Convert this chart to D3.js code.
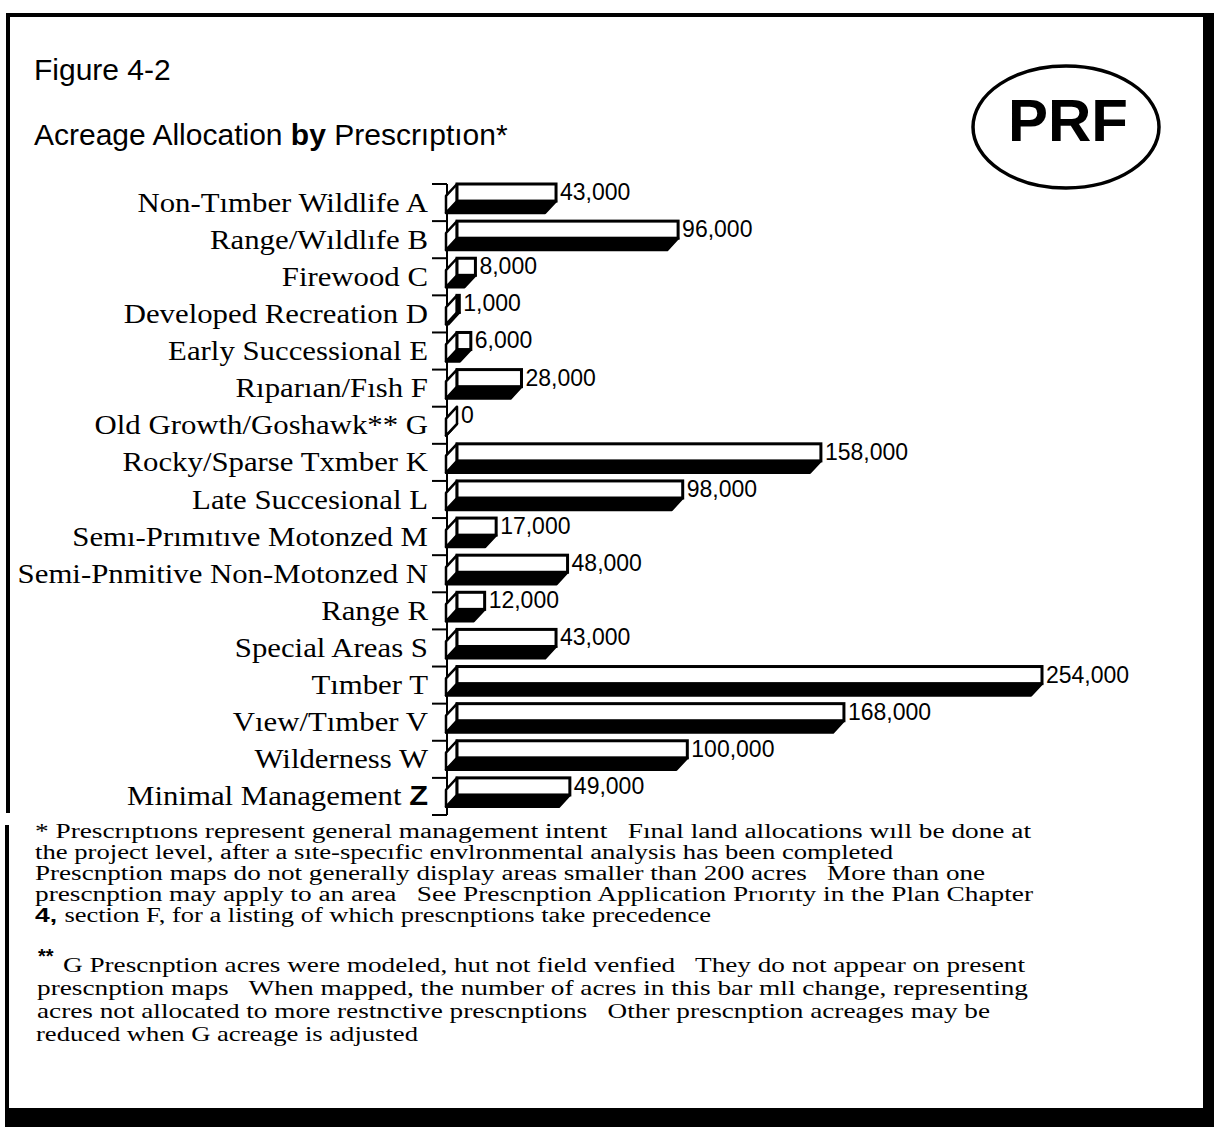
<!DOCTYPE html>
<html>
<head>
<meta charset="utf-8">
<script src="https://cdn.jsdelivr.net/npm/d3@7"></script>
<style>
body { margin: 0; background: #fff; }
svg { display: block; }
</style>
</head>
<body>
<svg id="chart"></svg>
<script>
var letters = ["A", "B", "C", "D", "E", "F", "G", "K", "L", "M", "N", "R", "S", "T", "V", "W", "Z"];
var names = ["Non-Tımber Wildlife", "Range/Wıldlıfe", "Firewood", "Developed Recreation",
    "Early Successional", "Rıparıan/Fısh", "Old Growth/Goshawk**", "Rocky/Sparse Txmber",
    "Late Succesional", "Semı-Prımıtıve Motonzed", "Semi-Pnmitive Non-Motonzed", "Range",
    "Special Areas", "Tımber", "Vıew/Tımber", "Wilderness", "Minimal Management"];
var acres = [43000, 96000, 8000, 1000, 6000, 28000, 0, 158000, 98000, 17000, 48000, 12000,
    43000, 254000, 168000, 100000, 49000];

var note1 = ["* Prescrıptıons represent general management intent   Fınal land allocations wıll be done at",
    "the project level, after a sıte-specıfic envlronmental analysis has been completed",
    "Prescnption maps do not generally display areas smaller than 200 acres   More than one",
    "prescnption may apply to an area   See Prescnption Application Prıorıty in the Plan Chapter",
    "section F, for a listing of which prescnptions take precedence"];
var note2 = ["G Prescnption acres were modeled, hut not field venfied   They do not appear on present",
    "prescnption maps   When mapped, the number of acres in this bar mll change, representing",
    "acres not allocated to more restnctive prescnptions   Other prescnption acreages may be",
    "reduced when G acreage is adjusted"];

var width = 1214, height = 1127;
var serif = "'Liberation Serif', 'Times New Roman', serif";
var sans = "'Liberation Sans', Arial, Helvetica, sans-serif";

var svg = d3.select("#chart")
    .attr("width", width)
    .attr("height", height);

svg.append("rect").attr("width", width).attr("height", height).attr("fill", "#fff");

// frame
svg.append("rect").attr("x", 6).attr("y", 13).attr("width", 1208).attr("height", 4).attr("fill", "#000");
svg.append("rect").attr("x", 6).attr("y", 13).attr("width", 4).attr("height", 800).attr("fill", "#000");
svg.append("rect").attr("x", 5).attr("y", 825).attr("width", 4).attr("height", 290).attr("fill", "#000");
svg.append("rect").attr("x", 1203).attr("y", 13).attr("width", 11).attr("height", 1114).attr("fill", "#000");
svg.append("rect").attr("x", 5).attr("y", 1108).attr("width", 1209).attr("height", 19).attr("fill", "#000");

// titles
svg.append("text").attr("x", 34).attr("y", 80)
    .style("font-family", sans).style("font-size", "30px")
    .text("Figure 4-2");

var t2 = svg.append("text").attr("x", 34).attr("y", 145)
    .style("font-family", sans).style("font-size", "30px");
t2.append("tspan").text("Acreage Allocation ");
t2.append("tspan").style("font-weight", "bold").text("by");
t2.append("tspan").text(" Prescrıptıon*");

// PRF logo
svg.append("ellipse").attr("cx", 1066).attr("cy", 127).attr("rx", 93).attr("ry", 61)
    .attr("fill", "none").attr("stroke", "#000").attr("stroke-width", 3.5);
svg.append("text").attr("x", 1068).attr("y", 141).attr("text-anchor", "middle")
    .style("font-family", sans).style("font-size", "60px").style("font-weight", "bold")
    .text("PRF");

// scales
var x = d3.scaleLinear().domain([0, 254000]).range([457, 1042]);
var y = d3.scaleBand().domain(letters).range([184, 815]);

var bw = y.bandwidth();
var faceH = bw * 0.46, depthY = bw * 0.32, depthX = 11;

// axis line and ticks at band edges
svg.append("line").attr("x1", 447).attr("x2", 447)
    .attr("y1", y.range()[0]).attr("y2", y.range()[1])
    .attr("stroke", "#000").attr("stroke-width", 2);

var edges = letters.map(function (d) { return y(d); }).concat([y.range()[1]]);
svg.selectAll(".tick").data(edges).enter().append("line")
    .attr("x1", 432).attr("x2", 447)
    .attr("y1", function (d) { return d; }).attr("y2", function (d) { return d; })
    .attr("stroke", "#000").attr("stroke-width", 2);

var rows = letters.map(function (l, i) { return {letter: l, name: names[i], value: acres[i]}; });

var g = svg.selectAll(".bar").data(rows).enter().append("g").attr("class", "bar");

// underside (black)
g.append("polygon")
    .attr("points", function (d) {
        var y0 = y(d.letter) + faceH, x0 = x(0), x1 = x(d.value);
        return [[x0, y0], [x1, y0], [x1 - depthX, y0 + depthY], [x0 - depthX, y0 + depthY]].join(" ");
    })
    .attr("fill", "#000").attr("stroke", "#000").attr("stroke-width", 2.5)
    .attr("stroke-linejoin", "round");

// left side
g.append("polygon")
    .attr("points", function (d) {
        var yt = y(d.letter), x0 = x(0);
        return [[x0, yt], [x0, yt + faceH], [x0 - depthX, yt + faceH + depthY], [x0 - depthX, yt + depthY]].join(" ");
    })
    .attr("fill", "#fff").attr("stroke", "#000").attr("stroke-width", 2.5)
    .attr("stroke-linejoin", "round");

// front face
g.append("rect")
    .attr("x", x(0))
    .attr("y", function (d) { return y(d.letter); })
    .attr("width", function (d) { return x(d.value) - x(0); })
    .attr("height", faceH)
    .attr("fill", "#fff").attr("stroke", "#000").attr("stroke-width", 3);

// value labels
g.append("text")
    .attr("x", function (d) { return x(d.value) + 4; })
    .attr("y", function (d) { return y(d.letter) + 16; })
    .style("font-family", sans).style("font-size", "23px")
    .text(function (d) { return d3.format(",")(d.value); });

// category labels (the scanned face is wider than Times, so stretch glyphs a little)
var lab = g.append("text")
    .attr("x", 428)
    .attr("y", function (d) { return y(d.letter) + bw / 2 + 9; })
    .attr("text-anchor", "end")
    .style("font-family", serif).style("font-size", "27px");
lab.append("tspan").text(function (d) { return d.name + " "; });
lab.append("tspan")
    .style("font-family", function (d) { return d.letter === "Z" ? sans : serif; })
    .style("font-weight", function (d) { return d.letter === "Z" ? "bold" : "normal"; })
    .text(function (d) { return d.letter; });
lab.each(function () {
    var len = this.getComputedTextLength();
    d3.select(this).attr("textLength", len * 1.14).attr("lengthAdjust", "spacingAndGlyphs");
});

// footnotes
var note1Ends = [1031, 893, 985, 1033, 711];
var note1Base = [838, 859, 880, 901, 922];
note1.forEach(function (line, i) {
    var t = svg.append("text").attr("x", 35).attr("y", note1Base[i])
        .style("font-family", serif).style("font-size", "20px").style("white-space", "pre")
        .attr("textLength", note1Ends[i] - 35).attr("lengthAdjust", "spacingAndGlyphs");
    if (i === 4) {
        t.append("tspan").style("font-family", sans).style("font-weight", "bold").text("4, ");
    }
    t.append("tspan").text(line);
});

var note2Starts = [63, 37, 37, 36];
var note2Ends = [1025, 1028, 990, 418];
var note2Base = [972, 995, 1018, 1041];
svg.append("text").attr("x", 38).attr("y", 963)
    .style("font-family", sans).style("font-size", "20px").style("font-weight", "bold")
    .text("**");
note2.forEach(function (line, i) {
    svg.append("text").attr("x", note2Starts[i]).attr("y", note2Base[i])
        .style("font-family", serif).style("font-size", "21px").style("white-space", "pre")
        .attr("textLength", note2Ends[i] - note2Starts[i]).attr("lengthAdjust", "spacingAndGlyphs")
        .text(line);
});
</script>
</body>
</html>
